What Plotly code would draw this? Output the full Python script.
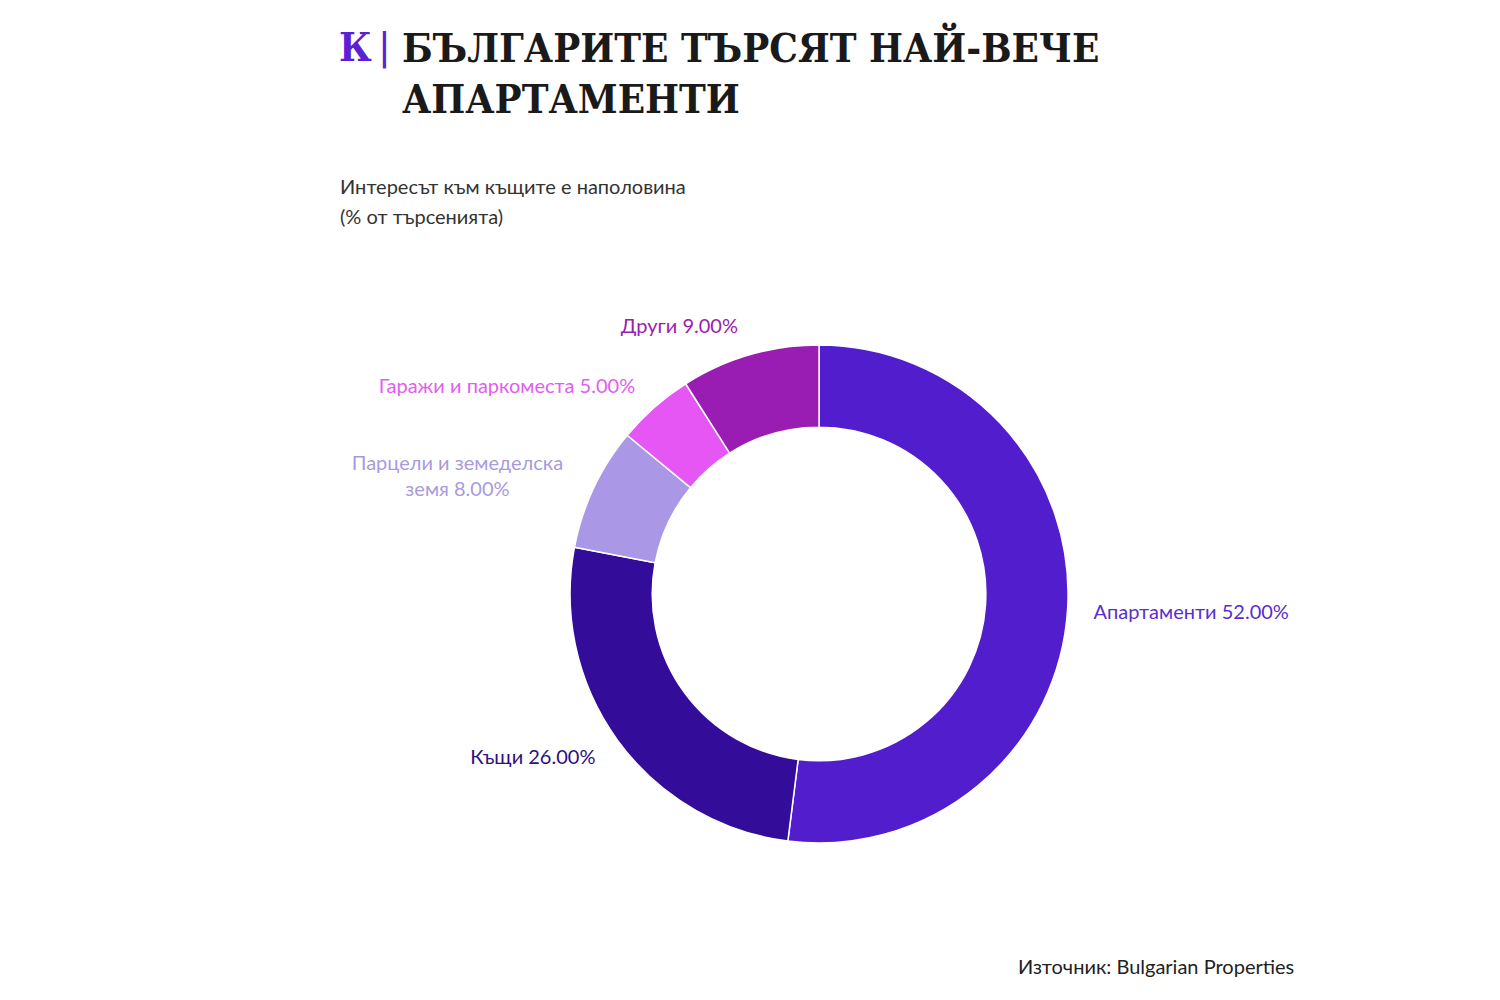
import plotly.graph_objects as go

categories = ["Апартаменти", "Къщи", "Парцели и земеделска<br>земя", "Гаражи и паркоместа", "Други"]
values = [52.0, 26.0, 8.0, 5.0, 9.0]
colors = ["#521DCC", "#330D99", "#AA97E5", "#E556F5", "#9A1DB3"]
label_colors = ["#5A2ECC", "#2E0F80", "#A99AE0", "#E15EF0", "#9A20B0"]

title_lines = ["БЪЛГАРИТЕ ТЪРСЯТ НАЙ-ВЕЧЕ", "АПАРТАМЕНТИ"]
subtitle_lines = ["Интересът към къщите е наполовина", "(% от търсенията)"]
source_text = "Източник: Bulgarian Properties"

W, H = 1500, 1000


def px(x):
    return x / W


def py(y):
    return 1 - y / H


fig = go.Figure()
# visible donut
fig.add_trace(go.Pie(
    labels=categories,
    values=values,
    hole=0.67,
    sort=False,
    direction="clockwise",
    rotation=0,
    marker=dict(colors=colors, line=dict(color="white", width=1.5)),
    textinfo="none",
    showlegend=False,
    automargin=False,
    hoverinfo="label+value",
    domain=dict(x=[0.2407, 0.8407], y=[0.165, 0.663]),
))
# transparent, slightly larger ring that only carries the outside labels
fig.add_trace(go.Pie(
    labels=categories,
    values=values,
    hole=0.95,
    sort=False,
    direction="clockwise",
    rotation=0,
    marker=dict(colors=["rgba(0,0,0,0)"] * len(values), line=dict(width=0)),
    textposition="outside",
    texttemplate="%{label} %{value:.2f}%",
    outsidetextfont=dict(family="Lato, sans-serif", size=20, color=label_colors),
    showlegend=False,
    automargin=False,
    hoverinfo="skip",
    domain=dict(x=[0.2407, 0.8407], y=[0.145, 0.683]),
))

serif = "DejaVu Serif Condensed, DejaVu Serif, serif"
annotations = [
    dict(x=px(329), y=py(38), text="<b>К</b>", xanchor="left", yanchor="middle",
         font=dict(family=serif, size=40, color="#5B1FD6")),
    dict(x=px(368), y=py(38), text="|", xanchor="left", yanchor="middle",
         font=dict(family="DejaVu Sans, sans-serif", size=38, color="#5B1FD6")),
    dict(x=px(392), y=py(38), text="<b>" + title_lines[0] + "</b>", xanchor="left", yanchor="middle",
         font=dict(family=serif, size=40, color="#1a1a1a")),
    dict(x=px(392), y=py(91), text="<b>" + title_lines[1] + "</b>", xanchor="left", yanchor="middle",
         font=dict(family=serif, size=40, color="#1a1a1a")),
    dict(x=px(330), y=py(178), text=subtitle_lines[0], xanchor="left", yanchor="middle",
         font=dict(family="Lato, sans-serif", size=20, color="#333333")),
    dict(x=px(330), y=py(208), text=subtitle_lines[1], xanchor="left", yanchor="middle",
         font=dict(family="Lato, sans-serif", size=20, color="#333333")),
    dict(x=px(1008), y=py(958), text=source_text, xanchor="left", yanchor="middle",
         font=dict(family="Lato, sans-serif", size=20, color="#222222")),
]
for a in annotations:
    fig.add_annotation(xref="paper", yref="paper", showarrow=False, **a)

fig.update_layout(
    width=W, height=H,
    margin=dict(l=0, r=0, t=0, b=0, autoexpand=False),
    paper_bgcolor="white",
    plot_bgcolor="white",
    showlegend=False,
)

fig.write_html("out.html")
